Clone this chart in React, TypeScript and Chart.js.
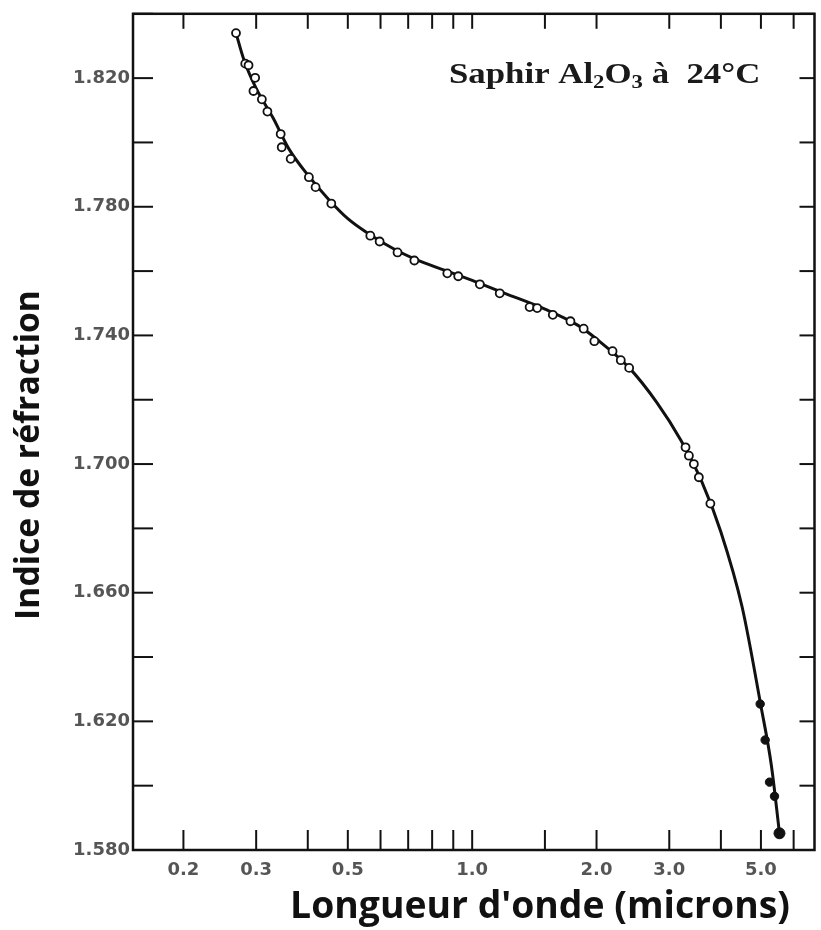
import React, { useEffect, useRef } from "react";
import { Chart, registerables } from "chart.js";

Chart.register(...registerables);

// Measured points (open circles): wavelength in microns, refractive index
const openWavelength = [0.2681, 0.2823, 0.2875, 0.2955, 0.2983, 0.3097, 0.3194, 0.3439, 0.3459, 0.3636, 0.4025, 0.4178, 0.456, 0.5668, 0.597, 0.6596, 0.7245, 0.8706, 0.9252, 1.0437, 1.166, 1.3772, 1.4367, 1.5674, 1.7294, 1.8616, 1.9758, 2.1869, 2.2894, 2.3988, 3.2844, 3.3468, 3.4406, 3.5377, 3.7722];
const openIndex = [1.834, 1.8245, 1.824, 1.816, 1.8201, 1.8134, 1.8096, 1.8026, 1.7985, 1.7949, 1.7892, 1.7861, 1.781, 1.771, 1.7692, 1.7658, 1.7633, 1.7593, 1.7584, 1.7559, 1.7531, 1.7488, 1.7485, 1.7464, 1.7444, 1.7421, 1.7382, 1.7351, 1.7323, 1.7299, 1.7052, 1.7026, 1.7, 1.6959, 1.6877];

// Measured points (filled dots) in the infrared
const filledWavelength = [4.979, 5.119, 5.245, 5.393, 5.545];
const filledIndex = [1.6254, 1.6142, 1.6011, 1.5967, 1.5852];
const filledRadius = [4.2, 4.2, 4.2, 4.2, 5.5];

// Smooth fitted curve
const curveWavelength = [0.2681, 0.28, 0.3, 0.33, 0.36, 0.4, 0.45, 0.5, 0.56, 0.65, 0.75, 0.9, 1.0, 1.2, 1.5, 1.8, 2.0, 2.4, 2.8, 3.2, 3.6, 4.0, 4.5, 5.0, 5.3, 5.545];
const curveIndex = [1.834, 1.8258, 1.8168, 1.8075, 1.798, 1.7899, 1.7822, 1.7763, 1.7717, 1.7667, 1.763, 1.7593, 1.7571, 1.7531, 1.7482, 1.7432, 1.7389, 1.7299, 1.7191, 1.7074, 1.6944, 1.6789, 1.6557, 1.6248, 1.6063, 1.5852];

// Axis ticks
const xTickValues = [0.2, 0.3, 0.4, 0.5, 0.6, 0.7, 0.8, 0.9, 1.0, 1.5, 2, 3, 4, 5, 6];
const xLabelValues = [0.2, 0.3, 0.5, 1.0, 2.0, 3.0, 5.0];
const xLabelTexts = ["0.2", "0.3", "0.5", "1.0", "2.0", "3.0", "5.0"];
const yTickValues = [1.58, 1.6, 1.62, 1.64, 1.66, 1.68, 1.7, 1.72, 1.74, 1.76, 1.78, 1.8, 1.82, 1.84];
const yLabelValues = [1.58, 1.62, 1.66, 1.7, 1.74, 1.78, 1.82];
const yLabelTexts = ["1.580", "1.620", "1.660", "1.700", "1.740", "1.780", "1.820"];

const xMin = 0.151;
const xMax = 6.74;
const yMin = 1.58;
const yMax = 1.84;

const xTitle = "Longueur d'onde (microns)";
const yTitle = "Indice de réfraction";

function lookupLabel(values: number[], texts: string[], v: number): string {
  for (let i = 0; i < values.length; i++) {
    if (Math.abs(values[i] - v) < 1e-6) return texts[i];
  }
  return "";
}

function fitFont(ctx: CanvasRenderingContext2D, text: string, family: string, target: number): string {
  ctx.font = `bold 30px ${family}`;
  const w = ctx.measureText(text).width;
  const size = (30 * target) / w;
  return `bold ${size.toFixed(2)}px ${family}`;
}

const framePlugin = {
  id: "frameAndText",
  afterDraw(chart: any) {
    const { ctx, chartArea: a, scales } = chart;
    ctx.save();
    ctx.strokeStyle = "#111";
    ctx.lineWidth = 2.5;
    ctx.strokeRect(a.left, a.top, a.right - a.left, a.bottom - a.top);

    ctx.lineWidth = 2;
    const seg = (x1: number, y1: number, x2: number, y2: number) => {
      ctx.beginPath();
      ctx.moveTo(x1, y1);
      ctx.lineTo(x2, y2);
      ctx.stroke();
    };
    for (const v of yTickValues) {
      const y = scales.y.getPixelForValue(v);
      seg(a.left, y, a.left + 20, y);
      seg(a.right - 15, y, a.right, y);
    }
    for (const v of xTickValues) {
      const x = scales.x.getPixelForValue(v);
      seg(x, a.bottom, x, a.bottom - 20);
      seg(x, a.top, x, a.top + 15);
    }

    // Axis titles
    ctx.fillStyle = "#111";
    ctx.textBaseline = "alphabetic";
    ctx.textAlign = "center";
    ctx.font = fitFont(ctx, xTitle, '"Open Sans"', 500);
    ctx.fillText(xTitle, 540, 918);

    ctx.save();
    ctx.translate(39, 455);
    ctx.rotate(-Math.PI / 2);
    ctx.font = fitFont(ctx, yTitle, '"Open Sans"', 330);
    ctx.fillText(yTitle, 0, 0);
    ctx.restore();

    // Annotation: Saphir Al2O3 à 24°C
    ctx.save();
    ctx.translate(449, 83);
    ctx.scale(1.2, 1);
    ctx.textAlign = "left";
    ctx.fillStyle = "#1a1a1a";
    const big = 'bold 29px "Liberation Serif"';
    const small = 'bold 19px "Liberation Serif"';
    const parts: [string, string, number][] = [
      ["Saphir Al", big, 0],
      ["2", small, 5],
      ["O", big, 0],
      ["3", small, 5],
      [" à  24°C", big, 0],
    ];
    let cx = 0;
    for (const [t, f, dy] of parts) {
      ctx.font = f;
      ctx.fillText(t, cx, dy);
      cx += ctx.measureText(t).width;
    }
    ctx.restore();

    ctx.restore();
  },
};

export default function App() {
  const canvasRef = useRef<HTMLCanvasElement | null>(null);

  useEffect(() => {
    const canvas = canvasRef.current;
    if (!canvas) return;
    const openPts = openWavelength.map((x, i) => ({ x, y: openIndex[i] }));
    const filledPts = filledWavelength.map((x, i) => ({ x, y: filledIndex[i] }));
    const curvePts = curveWavelength.map((x, i) => ({ x, y: curveIndex[i] }));

    const tickFont = { family: '"DejaVu Sans"', size: 18, weight: "bold" as const };

    const chart = new Chart(canvas, {
      type: "scatter",
      data: {
        datasets: [
          {
            data: openPts,
            showLine: false,
            pointRadius: 4,
            pointBorderWidth: 1.8,
            pointBorderColor: "#111",
            pointBackgroundColor: "#ffffff",
          },
          {
            data: filledPts,
            showLine: false,
            pointRadius: filledRadius,
            pointBorderWidth: 1,
            pointBorderColor: "#111",
            pointBackgroundColor: "#111",
          },
          {
            data: curvePts,
            showLine: true,
            pointRadius: 0,
            borderColor: "#111",
            borderWidth: 3,
            cubicInterpolationMode: "monotone",
            fill: false,
          },
        ],
      },
      options: {
        responsive: false,
        animation: false,
        devicePixelRatio: 1,
        layout: { padding: { top: 9, right: 3, left: 0, bottom: 0 } },
        plugins: { legend: { display: false }, tooltip: { enabled: false } },
        scales: {
          x: {
            type: "logarithmic",
            min: xMin,
            max: xMax,
            grid: { display: false, drawTicks: false },
            border: { display: false },
            afterBuildTicks: (s: any) => {
              s.ticks = xTickValues.map((v) => ({ value: v }));
            },
            afterFit: (s: any) => {
              s.height = 80;
            },
            ticks: {
              autoSkip: false,
              maxRotation: 0,
              minRotation: 0,
              padding: 10,
              color: "#555",
              font: tickFont,
              callback: (v: any) => lookupLabel(xLabelValues, xLabelTexts, Number(v)),
            },
          },
          y: {
            type: "linear",
            min: yMin,
            max: yMax,
            grid: { display: false, drawTicks: false },
            border: { display: false },
            afterBuildTicks: (s: any) => {
              s.ticks = yTickValues.map((v) => ({ value: v }));
            },
            afterFit: (s: any) => {
              s.width = 133;
            },
            ticks: {
              autoSkip: false,
              padding: 3,
              color: "#555",
              font: tickFont,
              callback: (v: any) => lookupLabel(yLabelValues, yLabelTexts, Number(v)),
            },
          },
        },
      },
      plugins: [framePlugin],
    } as any);

    return () => chart.destroy();
  }, []);

  return (
    <div style={{ position: "absolute", left: 0, top: 0, width: 821, height: 930, background: "#fff" }}>
      <canvas ref={canvasRef} width={821} height={930} style={{ display: "block", width: 821, height: 930 }} />
    </div>
  );
}
